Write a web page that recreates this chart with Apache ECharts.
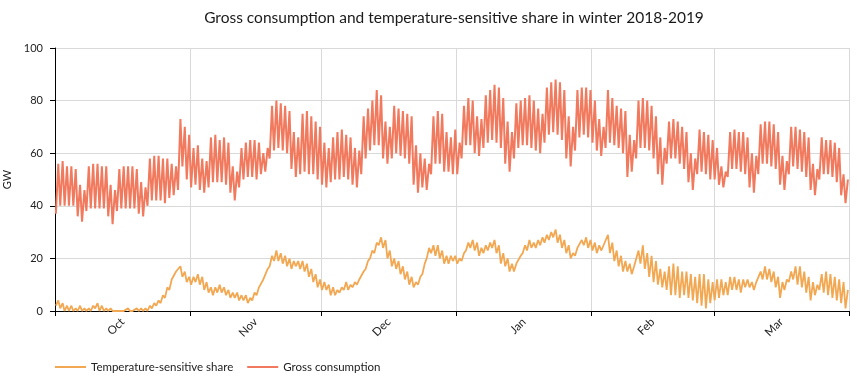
<!DOCTYPE html>
<html>
<head>
<meta charset="utf-8">
<script src="https://cdn.jsdelivr.net/npm/echarts@6.0.0/dist/echarts.min.js"></script>
<style>
html,body{margin:0;padding:0;background:#fff;}
#chart{width:857px;height:391px;}
</style>
</head>
<body>
<div id="chart"></div>
<script>
// Month labels and boundaries (days since 1 Oct 2018)
const monthNames = ['Oct', 'Nov', 'Dec', 'Jan', 'Feb', 'Mar'];
const monthStartDays = [0, 31, 61, 92, 123, 151, 182];
const monthMidDays = [15.5, 46, 76.5, 107.5, 137, 166.5];
const yTicks = [0, 20, 40, 60, 80, 100];

// Gross consumption (GW): daily peak and night trough, 1 Oct 2018 - 31 Mar 2019
const consumptionPeak = [
  // Oct
  56,57,55,55,54,48,46, 55,56,56,55,55,48,46, 54,55,55,55,54,49,47, 58,59,59,58,58,56,55, 73,70,67,
  // Nov
  62,63,58,57, 66,67,65,66,64,55,53, 62,64,65,65,64,60,62, 78,80,79,78,76,68,66, 75,76,74,72,70,
  // Dec
  64,62, 66,68,69,67,66,62,61, 74,77,80,84,82,72,70, 78,77,76,75,74,63,60, 58,56,74,76,75,68,66, 69,
  // Jan
  64,78,81,80,74,73, 82,84,86,85,81,72,68, 79,80,81,82,80,77,75, 85,87,88,87,84,74,70, 84,85,85,84,
  // Feb
  80,73,70, 84,81,78,77,76,67,65, 80,81,80,78,74,66,62, 72,73,72,70,68,60,58, 69,68,67,65,
  // Mar
  62,55,53, 68,69,68,68,66,60,59, 71,72,72,71,68,59,57, 70,70,69,68,66,56,54, 66,65,65,64,62,52,50
];
const consumptionTrough = [
  // Oct
  37,40,40,40,40,36,34, 38,39,39,39,39,36,33, 38,39,39,39,39,37,36, 40,42,42,42,41,43,44, 46,55,50,
  // Nov
  47,48,46,45, 47,49,49,49,48,45,42, 47,50,51,51,50,52,53, 58,61,62,61,60,54,51, 52,53,52,52,50,
  // Dec
  48,47, 49,50,50,51,50,48,47, 52,58,61,63,63,58,56, 58,60,59,58,56,48,45, 47,46,52,56,56,53,53, 52,
  // Jan
  52,58,63,63,60,59, 62,64,65,64,62,56,53, 58,62,63,63,62,61,60, 64,67,68,67,65,58,55, 61,66,67,66,
  // Feb
  64,61,59, 62,64,63,62,60,51,53, 58,62,62,61,58,52,48, 56,58,58,56,54,49,46, 52,53,52,50,
  // Mar
  50,48,47, 51,54,54,53,52,47,45, 52,56,56,55,54,48,46, 52,55,54,53,51,46,44, 50,52,52,51,49,44,41
];

// Temperature-sensitive share (GW): daily high and low
const tempPeak = [
  // Oct
  4,3,2,2,1,2,1, 1,2,3,2,1,1,0, 0,0,1,0,1,1,1, 2,3,4,6,9,12,15, 17,15,13,
  // Nov
  13,14,13,11, 9,9,10,9,8,7,7, 6,6,5,7,9,12,16, 21,23,22,21,20,19,19, 19,18,16,14,12,
  // Dec
  11,10, 9,8,9,11,10,11,12, 15,19,23,26,28,27,23, 20,19,17,15,13,11,13, 18,24,25,25,23,21,21, 21,
  // Jan
  20,22,26,27,26,24, 25,26,27,25,22,20,18, 18,21,25,27,26,27,28, 29,30,31,29,27,25,22, 24,27,28,27,
  // Feb
  26,25,25, 29,26,23,21,19,18,17, 23,25,22,21,19,16,15, 17,18,17,15,15,14,13, 14,14,12,11,
  // Mar
  12,12,11, 13,13,12,12,12,11,11, 15,17,16,15,13,11,12, 15,17,17,15,13,11,10, 14,15,14,13,12,11,8
];
const tempTrough = [
  // Oct
  2,1,0,0,0,0,0, 0,0,1,0,0,0,0, 0,0,0,0,0,0,0, 0,1,2,3,5,8,12, 15,13,11,
  // Nov
  10,11,10,8, 7,6,7,7,6,5,5, 4,4,3,4,6,9,12, 17,19,19,18,17,16,17, 16,15,13,11,9,
  // Dec
  8,8, 6,6,7,8,8,9,10, 12,16,20,22,25,24,20, 17,16,14,12,10,9,10, 14,20,22,21,20,18,18, 19,
  // Jan
  18,19,23,24,23,21, 22,23,24,22,18,17,15, 15,18,22,23,24,24,25, 26,27,28,26,24,22,20, 21,24,25,24,
  // Feb
  23,22,23, 25,22,19,17,15,15,14, 17,18,16,13,11,10,9, 8,6,6,5,6,5,4, 3,2,1,3,
  // Mar
  4,5,6, 6,8,8,7,9,9,8, 11,12,12,11,9,5,8, 11,12,10,9,7,4,6, 8,7,6,5,4,3,1
];

// Each day: night low (~5h) then evening high (~18h)
function daySeries(low, high) {
  const out = [];
  for (let d = 0; d < low.length; d++) {
    out.push([d + 0.2, low[d]]);
    out.push([d + 0.75, high[d]]);
  }
  return out;
}

const chart = echarts.init(document.getElementById('chart'), null, {renderer: 'canvas'});
const font = 'Lato, "Noto Sans", sans-serif';
chart.setOption({
  animation: false,
  backgroundColor: '#ffffff',
  title: {
    text: 'Gross consumption and temperature-sensitive share in winter 2018-2019',
    left: 454,
    top: 10,
    padding: 0,
    textAlign: 'center',
    textStyle: {fontFamily: font, fontSize: 15.5, fontWeight: 'normal', color: '#1a1a1a'}
  },
  legend: {
    data: ['Temperature-sensitive share', 'Gross consumption'],
    left: 55,
    top: 361,
    padding: 0,
    icon: 'rect',
    itemWidth: 31,
    itemHeight: 2,
    itemGap: 14,
    textStyle: {fontFamily: font, fontSize: 11.5, color: '#222'}
  },
  grid: {left: 55, right: 8, top: 48, bottom: 80, containLabel: false, outerBoundsMode: 'none'},
  xAxis: {
    type: 'value',
    min: monthStartDays[0],
    max: monthStartDays[monthStartDays.length - 1],
    axisLine: {show: true, lineStyle: {color: '#000', width: 1}},
    axisTick: {show: true, customValues: monthStartDays, length: 5, lineStyle: {color: '#000'}},
    splitLine: {show: true, lineStyle: {color: '#d9d9d9', width: 1}},
    axisLabel: {
      customValues: monthMidDays,
      rotate: 45,
      margin: 9,
      fontFamily: font,
      fontSize: 11.5,
      color: '#222',
      formatter: function (v) {
        const i = monthMidDays.indexOf(v);
        return i >= 0 ? monthNames[i] : '';
      }
    }
  },
  yAxis: {
    type: 'value',
    min: yTicks[0],
    max: yTicks[yTicks.length - 1],
    interval: 20,
    name: 'GW',
    nameLocation: 'middle',
    nameGap: 42,
    nameTextStyle: {fontFamily: font, fontSize: 11, color: '#222'},
    axisLine: {show: true, lineStyle: {color: '#000', width: 1}},
    axisTick: {show: true, length: 5, lineStyle: {color: '#000'}},
    splitLine: {show: true, lineStyle: {color: '#d9d9d9', width: 1}},
    axisLabel: {fontFamily: font, fontSize: 11, color: '#222', margin: 12}
  },
  series: [
    {
      name: 'Temperature-sensitive share',
      type: 'line',
      data: daySeries(tempTrough, tempPeak),
      showSymbol: false,
      symbol: 'none',
      color: '#f2a852',
      lineStyle: {width: 1.8, color: '#f2a852'}
    },
    {
      name: 'Gross consumption',
      type: 'line',
      data: daySeries(consumptionTrough, consumptionPeak),
      showSymbol: false,
      symbol: 'none',
      color: '#f17a5e',
      lineStyle: {width: 2, color: '#f17a5e'}
    }
  ]
});
</script>
</body>
</html>
